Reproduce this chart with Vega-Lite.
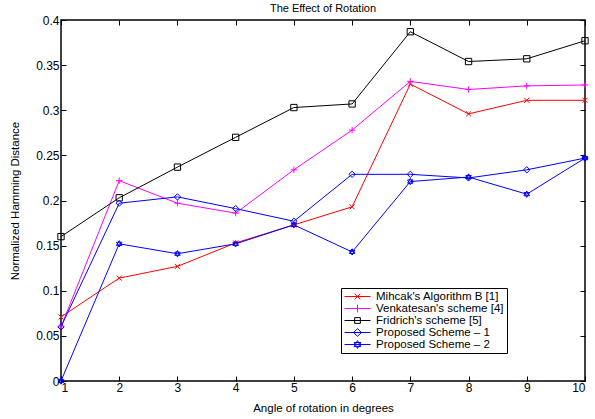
{
  "$schema": "https://vega.github.io/schema/vega-lite/v6.json",
  "autosize": "none",
  "width": 524,
  "height": 361,
  "padding": {"left": 61, "top": 20, "right": 10, "bottom": 38},
  "title": {"text": "The Effect of Rotation", "fontSize": 11, "fontWeight": "normal", "font": "Liberation Sans", "offset": 0, "color": "black"},
  "config": {
    "view": {"stroke": "black", "strokeWidth": 1.5},
    "font": "Liberation Sans",
    "axis": {"grid": false, "domain": false, "tickColor": "black", "labelColor": "black", "titleColor": "black", "labelFontSize": 12, "titleFontSize": 11.5, "titleFontWeight": "normal", "tickSize": -5, "labelPadding": 7}
  },
  "data": {"values": [
    {"series": "Mihcak's Algorithm B [1]", "angle": 1, "value": 0.071},
    {"series": "Mihcak's Algorithm B [1]", "angle": 2, "value": 0.114},
    {"series": "Mihcak's Algorithm B [1]", "angle": 3, "value": 0.127},
    {"series": "Mihcak's Algorithm B [1]", "angle": 4, "value": 0.153},
    {"series": "Mihcak's Algorithm B [1]", "angle": 5, "value": 0.173},
    {"series": "Mihcak's Algorithm B [1]", "angle": 6, "value": 0.193},
    {"series": "Mihcak's Algorithm B [1]", "angle": 7, "value": 0.329},
    {"series": "Mihcak's Algorithm B [1]", "angle": 8, "value": 0.296},
    {"series": "Mihcak's Algorithm B [1]", "angle": 9, "value": 0.311},
    {"series": "Mihcak's Algorithm B [1]", "angle": 10, "value": 0.311},
    {"series": "Venkatesan's scheme [4]", "angle": 1, "value": 0.06},
    {"series": "Venkatesan's scheme [4]", "angle": 2, "value": 0.222},
    {"series": "Venkatesan's scheme [4]", "angle": 3, "value": 0.197},
    {"series": "Venkatesan's scheme [4]", "angle": 4, "value": 0.186},
    {"series": "Venkatesan's scheme [4]", "angle": 5, "value": 0.234},
    {"series": "Venkatesan's scheme [4]", "angle": 6, "value": 0.278},
    {"series": "Venkatesan's scheme [4]", "angle": 7, "value": 0.332},
    {"series": "Venkatesan's scheme [4]", "angle": 8, "value": 0.323},
    {"series": "Venkatesan's scheme [4]", "angle": 9, "value": 0.327},
    {"series": "Venkatesan's scheme [4]", "angle": 10, "value": 0.328},
    {"series": "Fridrich's scheme [5]", "angle": 1, "value": 0.16},
    {"series": "Fridrich's scheme [5]", "angle": 2, "value": 0.203},
    {"series": "Fridrich's scheme [5]", "angle": 3, "value": 0.237},
    {"series": "Fridrich's scheme [5]", "angle": 4, "value": 0.27},
    {"series": "Fridrich's scheme [5]", "angle": 5, "value": 0.303},
    {"series": "Fridrich's scheme [5]", "angle": 6, "value": 0.307},
    {"series": "Fridrich's scheme [5]", "angle": 7, "value": 0.387},
    {"series": "Fridrich's scheme [5]", "angle": 8, "value": 0.354},
    {"series": "Fridrich's scheme [5]", "angle": 9, "value": 0.357},
    {"series": "Fridrich's scheme [5]", "angle": 10, "value": 0.377},
    {"series": "Proposed Scheme – 1", "angle": 1, "value": 0.06},
    {"series": "Proposed Scheme – 1", "angle": 2, "value": 0.197},
    {"series": "Proposed Scheme – 1", "angle": 3, "value": 0.204},
    {"series": "Proposed Scheme – 1", "angle": 4, "value": 0.191},
    {"series": "Proposed Scheme – 1", "angle": 5, "value": 0.177},
    {"series": "Proposed Scheme – 1", "angle": 6, "value": 0.229},
    {"series": "Proposed Scheme – 1", "angle": 7, "value": 0.229},
    {"series": "Proposed Scheme – 1", "angle": 8, "value": 0.225},
    {"series": "Proposed Scheme – 1", "angle": 9, "value": 0.234},
    {"series": "Proposed Scheme – 1", "angle": 10, "value": 0.247},
    {"series": "Proposed Scheme – 2", "angle": 1, "value": 0.0},
    {"series": "Proposed Scheme – 2", "angle": 2, "value": 0.152},
    {"series": "Proposed Scheme – 2", "angle": 3, "value": 0.141},
    {"series": "Proposed Scheme – 2", "angle": 4, "value": 0.152},
    {"series": "Proposed Scheme – 2", "angle": 5, "value": 0.173},
    {"series": "Proposed Scheme – 2", "angle": 6, "value": 0.143},
    {"series": "Proposed Scheme – 2", "angle": 7, "value": 0.221},
    {"series": "Proposed Scheme – 2", "angle": 8, "value": 0.226},
    {"series": "Proposed Scheme – 2", "angle": 9, "value": 0.207},
    {"series": "Proposed Scheme – 2", "angle": 10, "value": 0.247}
  ]},
  "layer": [
    {
      "mark": {"type": "line", "strokeWidth": 1, "clip": false},
      "encoding": {
        "x": {"field": "angle", "type": "quantitative", "scale": {"domain": [1, 10], "nice": false},
              "axis": {"orient": "bottom", "title": "Angle of rotation in degrees", "values": [1,2,3,4,5,6,7,8,9,10], "titlePadding": 9, "labelPadding": 6}},
        "y": {"field": "value", "type": "quantitative", "scale": {"domain": [0, 0.4], "nice": false},
              "axis": {"orient": "left", "title": "Normalized Hamming Distance", "values": [0,0.05,0.1,0.15,0.2,0.25,0.3,0.35,0.4], "format": ".2~f", "titlePadding": 15}},
        "color": {"field": "series", "type": "nominal", "legend": null,
                  "scale": {"domain": ["Mihcak's Algorithm B [1]", "Venkatesan's scheme [4]", "Fridrich's scheme [5]", "Proposed Scheme – 1", "Proposed Scheme – 2"],
                            "range": ["#ff0000", "#ff00ff", "#000000", "#0000ff", "#0000ff"]}}
      }
    },
    {
      "mark": {"type": "point", "filled": false, "strokeWidth": 1, "size": 40, "opacity": 1, "clip": false},
      "encoding": {
        "x": {"field": "angle", "type": "quantitative", "axis": {"orient": "top", "labels": false, "title": null, "values": [1,2,3,4,5,6,7,8,9,10]}},
        "y": {"field": "value", "type": "quantitative", "axis": {"orient": "right", "labels": false, "title": null, "values": [0,0.05,0.1,0.15,0.2,0.25,0.3,0.35,0.4]}},
        "color": {"field": "series", "type": "nominal", "legend": null,
                  "scale": {"domain": ["Mihcak's Algorithm B [1]", "Venkatesan's scheme [4]", "Fridrich's scheme [5]", "Proposed Scheme – 1", "Proposed Scheme – 2"],
                            "range": ["#ff0000", "#ff00ff", "#000000", "#0000ff", "#0000ff"]}},
        "shape": {"field": "series", "type": "nominal", "legend": null,
                  "scale": {"domain": ["Mihcak's Algorithm B [1]", "Venkatesan's scheme [4]", "Fridrich's scheme [5]", "Proposed Scheme – 1", "Proposed Scheme – 2"],
                            "range": ["M-0.8,-0.8L0.8,0.8M-0.8,0.8L0.8,-0.8", "M-1,0L1,0M0,-1L0,1", "square", "diamond", "M0,-1L0.866,0.5L-0.866,0.5Z M0,1L0.866,-0.5L-0.866,-0.5Z"]}}
      }
    },
    {
      "mark": {"type": "point", "filled": false, "strokeWidth": 1, "size": 1, "opacity": 0, "clip": false},
      "encoding": {
        "x": {"field": "angle", "type": "quantitative", "axis": null},
        "y": {"field": "value", "type": "quantitative", "axis": null},
        "color": {"field": "series", "type": "nominal",
                  "scale": {"domain": ["Mihcak's Algorithm B [1]", "Venkatesan's scheme [4]", "Fridrich's scheme [5]", "Proposed Scheme – 1", "Proposed Scheme – 2"],
                            "range": ["#ff0000", "#ff00ff", "#000000", "#0000ff", "#0000ff"]},
                  "legend": {"orient": "none", "legendX": 280, "legendY": 268, "title": null, "labelFontSize": 11.5, "labelColor": "black", "strokeColor": "black", "fillColor": "white", "padding": 3, "rowPadding": 0, "clipHeight": 11, "symbolSize": 676, "symbolStrokeWidth": 1, "labelOffset": 5, "symbolFillColor": "transparent", "symbolOpacity": 1}},
        "shape": {"field": "series", "type": "nominal",
                  "scale": {"domain": ["Mihcak's Algorithm B [1]", "Venkatesan's scheme [4]", "Fridrich's scheme [5]", "Proposed Scheme – 1", "Proposed Scheme – 2"],
                            "range": ["M-1,0L1,0M-0.22,-0.22L0.22,0.22M-0.22,0.22L0.22,-0.22", "M-1,0L1,0M0,-0.3L0,0.3", "M-1,0L1,0M-0.22,-0.22L0.22,-0.22L0.22,0.22L-0.22,0.22Z", "M-1,0L1,0M0,-0.3L0.3,0L0,0.3L-0.3,0Z", "M-1,0L1,0M0,-0.3L0.26,0.15L-0.26,0.15Z M0,0.3L0.26,-0.15L-0.26,-0.15Z"]},
                  "legend": {"orient": "none", "legendX": 280, "legendY": 268, "title": null, "labelFontSize": 11.5, "labelColor": "black", "strokeColor": "black", "fillColor": "white", "padding": 3, "rowPadding": 0, "clipHeight": 11, "symbolSize": 676, "symbolStrokeWidth": 1, "labelOffset": 5, "symbolFillColor": "transparent", "symbolOpacity": 1}}
      }
    }
  ],
  "resolve": {"axis": {"x": "independent", "y": "independent"}, "scale": {"shape": "independent", "color": "independent"}}
}
